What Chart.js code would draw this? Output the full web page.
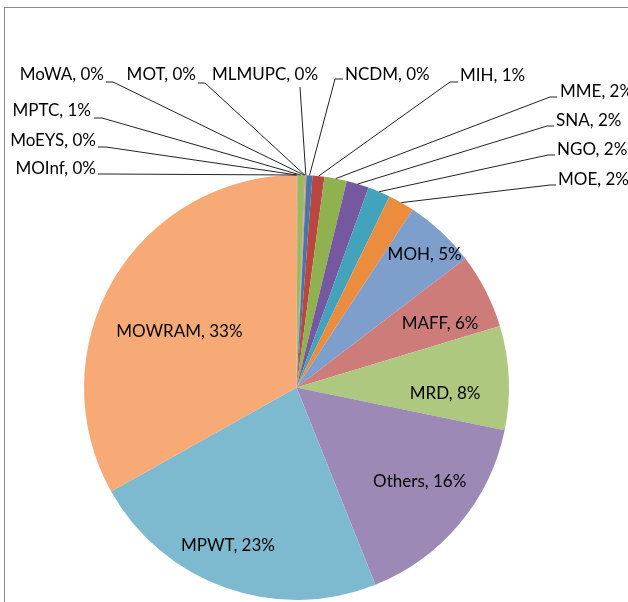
<!DOCTYPE html>
<html>
<head>
<meta charset="utf-8">
<script src="https://cdn.jsdelivr.net/npm/chart.js@4/dist/chart.umd.min.js"></script>
<style>
  body { margin: 0; background: #fff; }
  #wrap { position: relative; width: 628px; height: 602px; overflow: hidden; }
  #frame { position: absolute; left: 4px; top: 7px; width: 700px; height: 700px;
           border-left: 1px solid #8a8a8a; border-top: 1px solid #8a8a8a; }
  canvas { position: absolute; left: 0; top: 0; }
</style>
</head>
<body>
<div id="wrap">
  <div id="frame"></div>
  <canvas id="pieChart" width="628" height="602"></canvas>
</div>
<script>
// slices, clockwise from 12 o'clock
const agencies = ['MOInf', 'MoEYS', 'MPTC', 'MoWA', 'MOT', 'MLMUPC', 'NCDM', 'MIH', 'MME',
    'SNA', 'NGO', 'MOE', 'MOH', 'MAFF', 'MRD', 'Others', 'MPWT', 'MOWRAM'];
const shares = [0.02, 0.05, 0.5, 0.03, 0.05, 0.1, 0.45, 0.9, 1.7,
    1.7, 1.7, 2.0, 5.4, 5.7, 7.9, 15.7, 22.9, 33.1];

const sliceColors = [
    '#4F81BD', '#C0504D', '#9BBB59', '#8064A2', '#4BACC6', '#F79646',
    '#4675B0', '#B9473F', '#8FB150', '#7558A0', '#43A3BC', '#EC8C3E',
    '#7E9ECC', '#CD7C7A', '#AEC880', '#9C89B6', '#7EBACF', '#F8AA76'
];

const labelFont = '17px Lato';

// outside labels: text anchor + leader start (hx = end of the short horizontal bit)
const outsideLabels = {
    MOInf:  { x: 96,  y: 169, align: 'right', lx: 98,  ly: 174, hx: 106 },
    MoEYS:  { x: 96,  y: 141, align: 'right', lx: 98,  ly: 147, hx: 106 },
    MPTC:   { x: 91,  y: 111, align: 'right', lx: 94,  ly: 118, hx: 102 },
    MoWA:   { x: 104, y: 75,  align: 'right', lx: 106, ly: 82,  hx: 113 },
    MOT:    { x: 196, y: 75,  align: 'right', lx: 198, ly: 83,  hx: 205 },
    MLMUPC: { x: 212, y: 75,  align: 'left',  lx: 300, ly: 87,  hx: 300 },
    NCDM:   { x: 345, y: 75,  align: 'left',  lx: 343, ly: 79,  hx: 335 },
    MIH:    { x: 460, y: 76,  align: 'left',  lx: 458, ly: 82,  hx: 450 },
    MME:    { x: 560, y: 92,  align: 'left',  lx: 557, ly: 97,  hx: 550 },
    SNA:    { x: 556, y: 121, align: 'left',  lx: 554, ly: 126, hx: 547 },
    NGO:    { x: 557, y: 150, align: 'left',  lx: 555, ly: 155, hx: 548 },
    MOE:    { x: 558, y: 180, align: 'left',  lx: 556, ly: 185, hx: 550 }
};

// inside labels: distance from centre (share of radius) and nudge off the mid-angle (deg)
const insideLabels = {
    MOH:    { r: 0.87, turn: 1 },
    MAFF:   { r: 0.74, turn: 3 },
    MRD:    { r: 0.70, turn: 5 },
    Others: { r: 0.73, turn: -2.5 },
    MPWT:   { r: 0.81, turn: 4 },
    MOWRAM: { r: 0.61, turn: -5 }
};

function pctText(i) {
    const total = shares.reduce((a, b) => a + b, 0);
    return agencies[i] + ', ' + Math.round(shares[i] / total * 100) + '%';
}

const pieLabels = {
    id: 'pieLabels',
    afterDatasetsDraw(chart) {
        const ctx = chart.ctx;
        const arcs = chart.getDatasetMeta(0).data;
        ctx.save();
        ctx.font = labelFont;
        ctx.fillStyle = '#000';
        ctx.textBaseline = 'middle';
        arcs.forEach((arc, i) => {
            const name = agencies[i];
            const p = arc.getProps(['x', 'y', 'startAngle', 'endAngle', 'outerRadius']);
            const mid = (p.startAngle + p.endAngle) / 2;
            const inside = insideLabels[name];
            if (inside) {
                const a = mid + inside.turn * Math.PI / 180;
                const r = p.outerRadius * inside.r;
                ctx.textAlign = 'center';
                ctx.fillText(pctText(i), p.x + Math.cos(a) * r, p.y + Math.sin(a) * r);
                return;
            }
            const lab = outsideLabels[name];
            const tx = p.x + Math.cos(mid) * p.outerRadius;
            const ty = p.y + Math.sin(mid) * p.outerRadius;
            ctx.textAlign = lab.align;
            ctx.fillText(pctText(i), lab.x, lab.y);
            ctx.beginPath();
            ctx.strokeStyle = '#222';
            ctx.lineWidth = 1;
            ctx.moveTo(lab.lx, lab.ly);
            ctx.lineTo(lab.hx, lab.ly);
            ctx.lineTo(tx, ty);
            ctx.stroke();
        });
        ctx.restore();
    }
};

let chart;

function inicializarGrafico() {
    const ctx = document.getElementById('pieChart').getContext('2d');
    chart = new Chart(ctx, {
        type: 'pie',
        data: {
            labels: agencies,
            datasets: [{
                data: shares,
                backgroundColor: sliceColors,
                borderWidth: 0
            }]
        },
        options: {
            responsive: false,
            animation: false,
            layout: { padding: { left: 84, right: 119, top: 175, bottom: 2 } },
            plugins: {
                legend: { display: false },
                tooltip: { enabled: false }
            }
        },
        plugins: [pieLabels]
    });
}

document.addEventListener('DOMContentLoaded', inicializarGrafico);
</script>
</body>
</html>
